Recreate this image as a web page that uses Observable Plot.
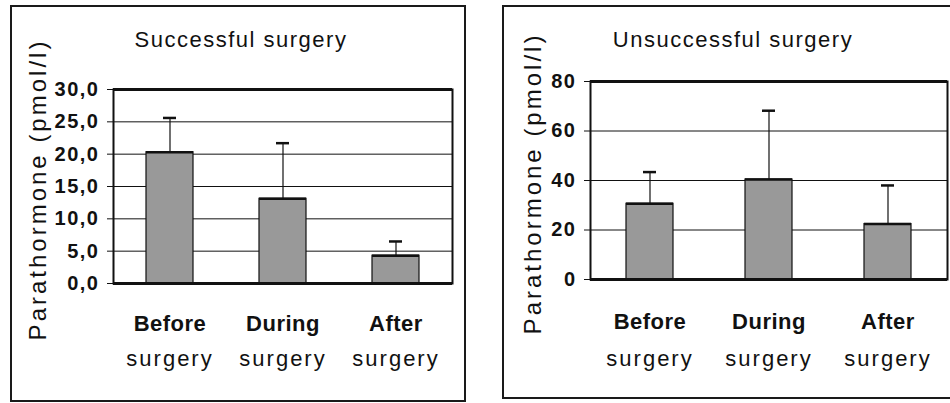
<!DOCTYPE html>
<html><head><meta charset="utf-8">
<script src="https://cdn.jsdelivr.net/npm/d3@7"></script>
<script src="https://cdn.jsdelivr.net/npm/@observablehq/plot@0.6"></script>
<style>
html,body{margin:0;padding:0;background:#fff;}
body{width:950px;height:403px;position:relative;overflow:hidden;font-family:"Liberation Sans",Arial,sans-serif;}
.box{position:absolute;box-sizing:border-box;border:2px solid #1a1a1a;pointer-events:none;}
.title{position:absolute;font-size:22px;line-height:22px;letter-spacing:1.5px;white-space:nowrap;transform:translateX(-50%);color:#111;}
.panel{position:absolute;top:0;}
g[aria-description="ylabel"] text{letter-spacing:3px;}
g[aria-description="cat1"] text{letter-spacing:0.5px;}
g[aria-description="cat2"] text{letter-spacing:2px;}
g[aria-description="yticks"] text{letter-spacing:1.5px;}
</style></head><body>
<div id="left" class="panel" style="left:0;width:480px"></div>
<div id="right" class="panel" style="left:480px;width:470px"></div>
<div class="box" style="left:10px;top:5px;width:456px;height:397px"></div>
<div class="box" style="left:502px;top:5px;width:470px;height:394px"></div>
<div class="title" style="left:241px;top:29px">Successful surgery</div>
<div class="title" style="left:733px;top:29px">Unsuccessful surgery</div>
<script>
// ---- data ----
const categories = ["Before surgery", "During surgery", "After surgery"];
const yLabel = "Parathormone (pmol/l)";
const successMean  = [20.3, 13.1, 4.3];
const successUpper = [25.6, 21.7, 6.5];
const successTicks = [0, 5, 10, 15, 20, 25, 30];
const failMean  = [30.6, 40.4, 22.4];
const failUpper = [43.4, 68.2, 38.0];
const failTicks = [0, 20, 40, 60, 80];

function panel(el, o) {
  const data = categories.map((c, i) => ({cat: c, mean: o.mean[i], upper: o.upper[i]}));
  const ymax = o.ticks[o.ticks.length - 1];
  const chart = Plot.plot({
    width: o.width, height: 403,
    marginLeft: o.ml, marginRight: o.mr, marginTop: o.mt, marginBottom: o.mb,
    style: {background: "transparent", color: "#111", fontFamily: "Liberation Sans, Arial, sans-serif", overflow: "visible"},
    x: {domain: categories, paddingInner: o.pi, paddingOuter: o.pi / 2, axis: null},
    y: {domain: [0, ymax], axis: null},
    marks: [
      Plot.ruleY(o.ticks, {stroke: "#111", strokeWidth: 1}),
      Plot.barY(data, {x: "cat", y: "mean", fill: "#999999", stroke: "#111", strokeWidth: 1.2}),
      Plot.tickY(data, {x: "cat", y: "mean", stroke: "#111", strokeWidth: 2.5}),
      Plot.ruleX(data, {x: "cat", y1: "mean", y2: "upper", stroke: "#111", strokeWidth: 1.2}),
      Plot.tickY(data, {x: "cat", y: "upper", stroke: "#111", strokeWidth: 2.5, insetLeft: 17, insetRight: 17}),
      Plot.frame({stroke: "#111", strokeWidth: 2}),
      Plot.ruleY([0, ymax], {stroke: "#111", strokeWidth: 3}),
      Plot.axisY({ticks: o.ticks, tickFormat: () => "", tickSize: 6, label: null}),
      Plot.text(o.ticks, {y: d => d, text: o.fmt, frameAnchor: "left", dx: -14, textAnchor: "end", lineAnchor: "middle", fontSize: 20, fontWeight: "bold", ariaDescription: "yticks"}),
      Plot.text(categories, {x: d => d, text: d => d.split(" ")[0], frameAnchor: "bottom", dy: o.dy1, lineAnchor: "bottom", fontSize: 22, fontWeight: "bold", ariaDescription: "cat1"}),
      Plot.text(categories, {x: d => d, text: d => d.split(" ")[1], frameAnchor: "bottom", dy: o.dy2, lineAnchor: "bottom", fontSize: 22, ariaDescription: "cat2"}),
      Plot.text([yLabel], {frameAnchor: "left", rotate: -90, dx: o.ldx, dy: 3, lineAnchor: "bottom", textAnchor: "middle", fontSize: 24, ariaDescription: "ylabel"})
    ]
  });
  document.getElementById(el).appendChild(chart);
}

panel("left", {width: 480, ml: 113, mr: 28, mt: 89, mb: 120, pi: 0.58,
  mean: successMean, upper: successUpper, ticks: successTicks,
  fmt: d => d.toFixed(1).replace(".", ","), dy1: 47, dy2: 82, ldx: -68});
panel("right", {width: 470, ml: 110, mr: 3, mt: 81, mb: 124, pi: 0.605,
  mean: failMean, upper: failUpper, ticks: failTicks,
  fmt: d => String(d), dy1: 49, dy2: 86, ldx: -50});
</script>
</body></html>
